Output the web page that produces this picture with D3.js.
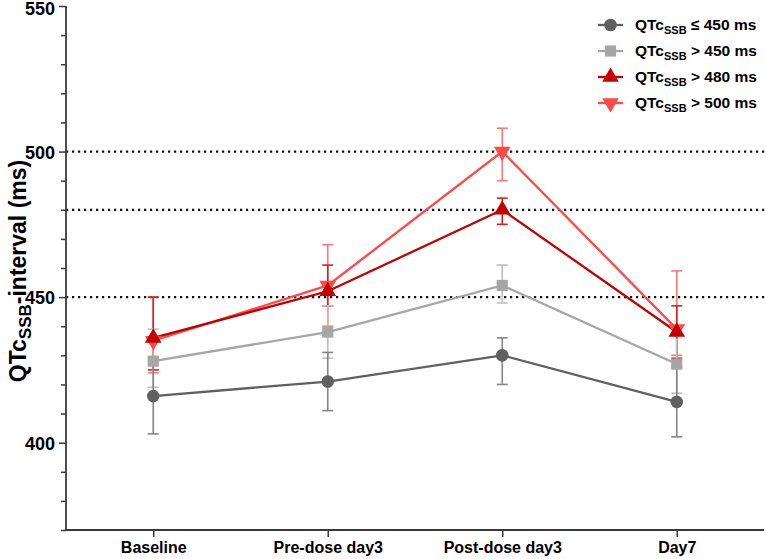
<!DOCTYPE html>
<html>
<head>
<meta charset="utf-8">
<script src="https://cdn.jsdelivr.net/npm/d3@7"></script>
<style>
  html, body { margin: 0; padding: 0; background: #fff; }
  svg { display: block; }
  text { font-family: "Liberation Sans", Arial, Helvetica, sans-serif; font-weight: bold; fill: #000; }
</style>
</head>
<body>
<svg id="chart" width="766" height="559"></svg>
<script>
// ---------- data ----------
const categories = ["Baseline", "Pre-dose day3", "Post-dose day3", "Day7"];

const seriesLabels = ["\u2264 450 ms", "> 450 ms", "> 480 ms", "> 500 ms"];

const le450Mean = [416, 421, 430, 414];
const le450Low  = [403, 411, 420, 402];
const le450High = [429, 431, 436, 426];

const gt450Mean = [428, 438, 454, 427];
const gt450Low  = [419, 429, 448, 417];
const gt450High = [439, 447, 461, 437];

const gt480Mean = [436, 452, 480, 438];
const gt480Low  = [425, 447, 475, 429];
const gt480High = [450, 461, 484, 447];

const gt500Mean = [435, 454, 500, 439];
const gt500Low  = [424, 440, 490, 430];
const gt500High = [450, 468, 508, 459];

const referenceLines = [450, 480, 500];
const yMajorTicks = [400, 450, 500, 550];
const yDomain = [370, 550];

// ---------- layout ----------
(function () {
const svg = d3.select("#chart");
const pLeft = 66, pRight = 764, pTop = 6, pBottom = 530;

const x = d3.scalePoint().domain(categories).range([pLeft, pRight]).padding(0.5);
const y = d3.scaleLinear().domain(yDomain).range([pBottom, pTop]);

const series = [
  { label: seriesLabels[3], mean: gt500Mean, lo: gt500Low, hi: gt500High, line: "#ff4848", bar: "#ff7777", shape: "down" },
  { label: seriesLabels[2], mean: gt480Mean, lo: gt480Low, hi: gt480High, line: "#c40000", bar: "#d42222", shape: "up" },
  { label: seriesLabels[1], mean: gt450Mean, lo: gt450Low, hi: gt450High, line: "#a6a6a6", bar: "#bcbcbc", shape: "square" },
  { label: seriesLabels[0], mean: le450Mean, lo: le450Low, hi: le450High, line: "#606060", bar: "#858585", shape: "circle" }
];

// reference dotted lines
svg.append("g").selectAll("line").data(referenceLines).join("line")
  .attr("x1", pLeft).attr("x2", 766)
  .attr("y1", d => y(d)).attr("y2", d => y(d))
  .attr("stroke", "#111").attr("stroke-width", 2.2)
  .attr("stroke-dasharray", "2.2 3.8");

// axes
const axisColor = "#3a3a3a";
const yMinor = d3.range(yDomain[0], yDomain[1] + 1, 10).filter(v => !yMajorTicks.includes(v));

const yAxisMajor = d3.axisLeft(y).tickValues(yMajorTicks).tickSize(7).tickPadding(4).tickFormat(d3.format("d"));
const gy = svg.append("g").attr("transform", `translate(${pLeft},0)`).call(yAxisMajor);
gy.select(".domain").remove();
gy.selectAll(".tick line").attr("stroke", axisColor).attr("stroke-width", 1.5);
gy.selectAll(".tick text").style("font-size", "18px").attr("fill", "#000")
  .attr("dy", d => d === yDomain[1] ? "0.48em" : "0.36em");

const yAxisMinor = d3.axisLeft(y).tickValues(yMinor).tickSize(5).tickFormat("");
const gym = svg.append("g").attr("transform", `translate(${pLeft},0)`).call(yAxisMinor);
gym.select(".domain").remove();
gym.selectAll(".tick line").attr("stroke", axisColor).attr("stroke-width", 1.5);

const xAxis = d3.axisBottom(x).tickSize(7).tickPadding(5);
const gx = svg.append("g").attr("transform", `translate(0,${pBottom})`).call(xAxis);
gx.select(".domain").remove();
gx.selectAll(".tick line").attr("stroke", axisColor).attr("stroke-width", 1.5);
gx.selectAll(".tick text").style("font-size", "16px").attr("fill", "#000");

// axis lines
svg.append("line").attr("x1", pLeft).attr("x2", pLeft).attr("y1", pTop).attr("y2", pBottom)
  .attr("stroke", axisColor).attr("stroke-width", 1.8);
svg.append("line").attr("x1", pLeft).attr("x2", pRight).attr("y1", pBottom).attr("y2", pBottom)
  .attr("stroke", axisColor).attr("stroke-width", 1.8);

// y title
const yTitle = svg.append("text")
  .attr("transform", `translate(26,271) rotate(-90)`)
  .attr("text-anchor", "middle")
  .style("font-size", "23px");
yTitle.append("tspan").text("QTc");
yTitle.append("tspan").text("SSB").style("font-size", "17px").attr("dy", 5);
yTitle.append("tspan").text("-interval (ms)").attr("dy", -5);

// symbols
function symbolPath(shape, scale) {
  const s = scale || 1;
  if (shape === "circle") return d3.symbol(d3.symbolCircle, 125 * s)();
  if (shape === "square") return d3.symbol(d3.symbolSquare, 125 * s)();
  return d3.symbol(d3.symbolTriangle, 120 * s)();
}
function symbolTransform(shape, cx, cy) {
  return shape === "down" ? `translate(${cx},${cy}) rotate(180)` : `translate(${cx},${cy})`;
}

const capW = 5.5;
const plot = svg.append("g");

// error bars
series.forEach(s => {
  const g = plot.append("g");
  categories.forEach((c, i) => {
    const cx = x(c);
    g.append("line").attr("x1", cx).attr("x2", cx).attr("y1", y(s.lo[i])).attr("y2", y(s.hi[i]))
      .attr("stroke", s.bar).attr("stroke-width", 1.6);
    [s.lo[i], s.hi[i]].forEach(v => {
      g.append("line").attr("x1", cx - capW).attr("x2", cx + capW).attr("y1", y(v)).attr("y2", y(v))
        .attr("stroke", s.bar).attr("stroke-width", 1.6);
    });
  });
});

// lines
const lineGen = d3.line().x((d, i) => x(categories[i])).y(d => y(d));
series.forEach(s => {
  plot.append("path").datum(s.mean).attr("d", lineGen)
    .attr("fill", "none").attr("stroke", s.line).attr("stroke-width", 2.3);
});

// markers
series.forEach(s => {
  plot.append("g").selectAll("path").data(s.mean).join("path")
    .attr("d", symbolPath(s.shape))
    .attr("transform", (d, i) => symbolTransform(s.shape, x(categories[i]), y(d)))
    .attr("fill", s.line);
});

// legend
const legendOrder = [series[3], series[2], series[1], series[0]];
const legendY = [25, 51, 77, 103];
const legend = svg.append("g");
legendOrder.forEach((s, i) => {
  const ly = legendY[i];
  legend.append("line").attr("x1", 598).attr("x2", 623).attr("y1", ly).attr("y2", ly)
    .attr("stroke", s.line).attr("stroke-width", 2.3);
  legend.append("path").attr("d", symbolPath(s.shape)).attr("transform", symbolTransform(s.shape, 610.5, ly))
    .attr("fill", s.line);
  const t = legend.append("text").attr("x", 635).attr("y", ly + 5).style("font-size", "15.5px");
  t.append("tspan").text("QTc");
  t.append("tspan").text("SSB").style("font-size", "11px").attr("dy", 4);
  t.append("tspan").text(" " + s.label).attr("dy", -4);
});
})();
</script>
</body>
</html>
